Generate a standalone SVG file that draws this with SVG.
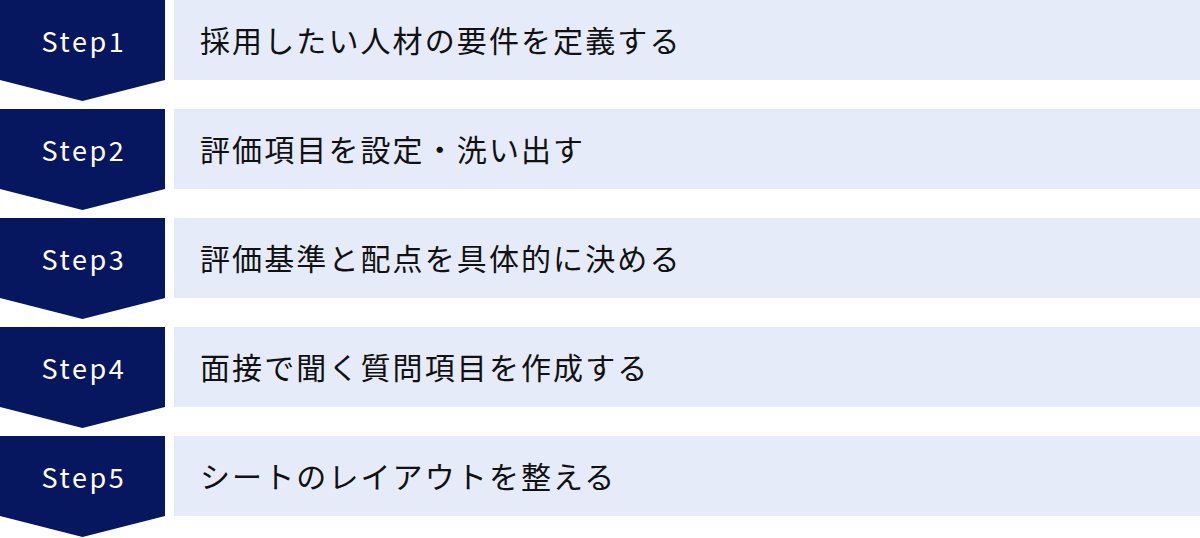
<svg xmlns="http://www.w3.org/2000/svg" width="1200" height="538" viewBox="0 0 1200 538">
<style>
.bg{fill:#ffffff}
.chev{fill:#06175F}
.panel{fill:#E5EBF8}
.step{font-family:"Noto Sans CJK JP","Noto Sans",sans-serif;font-size:27px;letter-spacing:2.6px;fill:#ffffff;text-anchor:middle}
.label{font-family:"Noto Sans CJK JP","Noto Sans CJK SC",sans-serif;font-size:30px;letter-spacing:2.1px;fill:#111111}
</style>
<defs>
<polygon id="chevron" points="0,0 165,0 165,80 82.5,101 0,80"/>
</defs>
<rect class="bg" x="0" y="0" width="1200" height="538"/>
<g id="step1" transform="translate(0,0)">
<use href="#chevron" class="chev"/>
<rect class="panel" x="174" y="0" width="1026" height="80"/>
<text class="step" x="84" y="52">Step1</text>
<text class="label" x="200" y="52">採用したい人材の要件を定義する</text>
</g>
<g id="step2" transform="translate(0,109)">
<use href="#chevron" class="chev"/>
<rect class="panel" x="174" y="0" width="1026" height="80"/>
<text class="step" x="84" y="52">Step2</text>
<text class="label" x="200" y="52">評価項目を設定・洗い出す</text>
</g>
<g id="step3" transform="translate(0,218)">
<use href="#chevron" class="chev"/>
<rect class="panel" x="174" y="0" width="1026" height="80"/>
<text class="step" x="84" y="52">Step3</text>
<text class="label" x="200" y="52">評価基準と配点を具体的に決める</text>
</g>
<g id="step4" transform="translate(0,327)">
<use href="#chevron" class="chev"/>
<rect class="panel" x="174" y="0" width="1026" height="80"/>
<text class="step" x="84" y="52">Step4</text>
<text class="label" x="200" y="52">面接で聞く質問項目を作成する</text>
</g>
<g id="step5" transform="translate(0,436)">
<use href="#chevron" class="chev"/>
<rect class="panel" x="174" y="0" width="1026" height="80"/>
<text class="step" x="84" y="52">Step5</text>
<text class="label" x="200" y="52">シートのレイアウトを整える</text>
</g>
<g id="connectors"></g>
</svg>
